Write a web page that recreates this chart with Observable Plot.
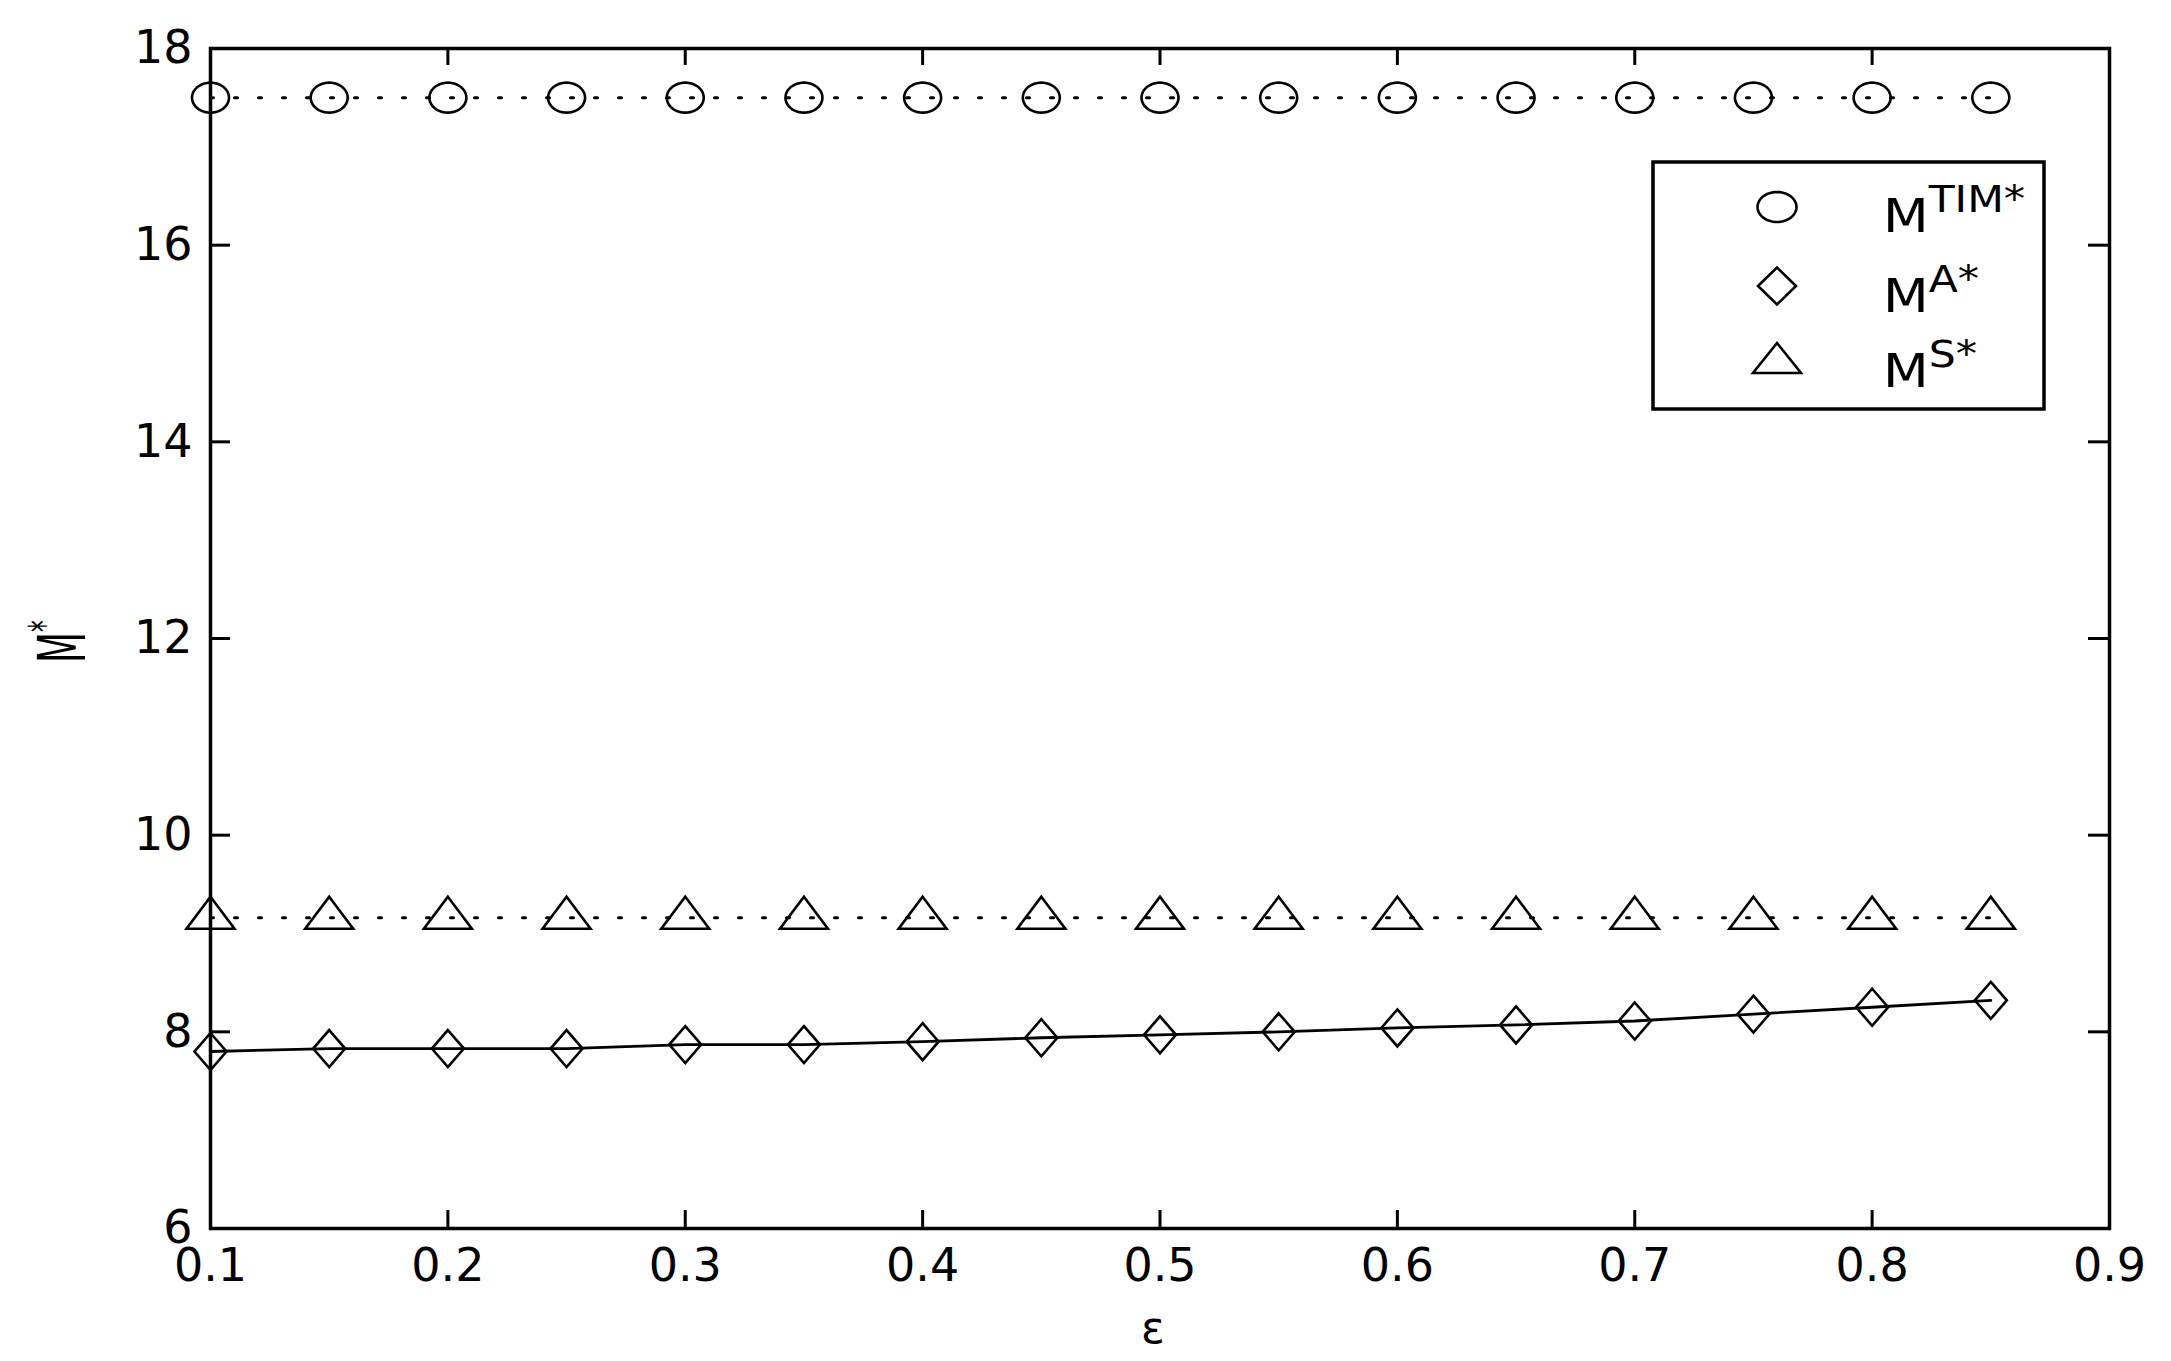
<!DOCTYPE html>
<html><head><meta charset="utf-8">
<script src="https://cdn.jsdelivr.net/npm/d3@7"></script>
<script src="https://cdn.jsdelivr.net/npm/@observablehq/plot@0.6"></script>
<style>body{margin:0;background:#fff}</style>
</head><body><div id="chart"></div>
<script>
// ---- data ----
const eps = [0.1, 0.15, 0.2, 0.25, 0.3, 0.35, 0.4, 0.45, 0.5, 0.55, 0.6, 0.65, 0.7, 0.75, 0.8, 0.85];
const mTIM = [17.5, 17.5, 17.5, 17.5, 17.5, 17.5, 17.5, 17.5, 17.5, 17.5, 17.5, 17.5, 17.5, 17.5, 17.5, 17.5];
const mA   = [7.80, 7.83, 7.83, 7.83, 7.87, 7.87, 7.90, 7.94, 7.97, 8.00, 8.04, 8.07, 8.11, 8.18, 8.25, 8.32];
const mS   = [9.16, 9.16, 9.16, 9.16, 9.16, 9.16, 9.16, 9.16, 9.16, 9.16, 9.16, 9.16, 9.16, 9.16, 9.16, 9.16];
const xTicks = [0.1, 0.2, 0.3, 0.4, 0.5, 0.6, 0.7, 0.8, 0.9];
const yTicks = [6, 8, 10, 12, 14, 16, 18];
const legendSup = ["TIM*", "A*", "S*"];

const rows = eps.map((e, i) => ({eps: e, tim: mTIM[i], a: mA[i], s: mS[i]}));

// ---- custom marker shapes (the picture is stretched, so markers are elliptic) ----
function ellipseSym(rx, ry) {
  return {draw(ctx) {
    const n = 48;
    for (let i = 0; i < n; i++) {
      const t = 2 * Math.PI * i / n, px = rx * Math.cos(t), py = ry * Math.sin(t);
      if (i) ctx.lineTo(px, py); else ctx.moveTo(px, py);
    }
    ctx.closePath();
  }};
}
function diamondSym(hw, hh) {
  return {draw(ctx) { ctx.moveTo(0, -hh); ctx.lineTo(hw, 0); ctx.lineTo(0, hh); ctx.lineTo(-hw, 0); ctx.closePath(); }};
}
function triSym(hw, up, down) {
  return {draw(ctx) { ctx.moveTo(0, -up); ctx.lineTo(hw, down); ctx.lineTo(-hw, down); ctx.closePath(); }};
}
const symCircle = ellipseSym(18.5, 15);
const symDiamond = diamondSym(16, 18.5);
const symTri = triSym(24, 21, 11);

const F = "DejaVu Sans";
const dotted = "3,21";

const plot = Plot.plot({
  width: 2171, height: 1361,
  marginLeft: 210, marginRight: 62, marginTop: 48, marginBottom: 133,
  style: {fontFamily: F, background: "white", color: "black"},
  x: {domain: [0.1, 0.9]},
  y: {domain: [6, 18]},
  marks: [
    Plot.line(rows, {x: "eps", y: "tim", stroke: "black", strokeWidth: 3, strokeDasharray: dotted}),
    Plot.line(rows, {x: "eps", y: "s", stroke: "black", strokeWidth: 3, strokeDasharray: dotted}),
    Plot.line(rows, {x: "eps", y: "a", stroke: "black", strokeWidth: 2.8}),
    Plot.dot(rows, {x: "eps", y: "tim", symbol: symCircle, stroke: "black", strokeWidth: 2.6, fill: "none"}),
    Plot.dot(rows, {x: "eps", y: "s", symbol: symTri, stroke: "black", strokeWidth: 2.6, fill: "none"}),
    Plot.dot(rows, {x: "eps", y: "a", symbol: symDiamond, stroke: "black", strokeWidth: 2.6, fill: "none"}),
    Plot.frame({stroke: "black", strokeWidth: 3.5}),
    // tick labels
    Plot.axisX({anchor: "bottom", ticks: xTicks, tickSize: 0, tickPadding: 20, fontSize: 46, label: null, tickFormat: d => String(d)}),
    Plot.axisY({anchor: "left", ticks: yTicks, tickSize: 0, tickPadding: 18, fontSize: 46, label: null, tickFormat: d => String(d)}),
    // inward ticks on all four sides
    Plot.axisX({anchor: "bottom", ticks: xTicks, tickSize: -18, strokeWidth: 3, tickFormat: () => "", label: null}),
    Plot.axisX({anchor: "top", ticks: xTicks, tickSize: -16, strokeWidth: 3, tickFormat: () => "", label: null}),
    Plot.axisY({anchor: "left", ticks: yTicks, tickSize: -20, strokeWidth: 3, tickFormat: () => "", label: null}),
    Plot.axisY({anchor: "right", ticks: yTicks, tickSize: -22, strokeWidth: 3, tickFormat: () => "", label: null})
  ]
});
document.getElementById("chart").appendChild(plot);

// ---- axis titles and legend ----
const svg = d3.select(plot);
// x label
svg.append("text").attr("x", 1153).attr("y", 1343).attr("text-anchor", "middle")
  .attr("font-family", F).attr("font-size", 44).attr("fill", "black").text("ε");
// y label (rotated M*)
const yl = svg.append("text").attr("transform", "translate(85,663) rotate(-90) scale(0.78,1.43)")
  .attr("text-anchor", "start").attr("font-family", F).attr("font-size", 46).attr("fill", "black");
yl.append("tspan").text("M");
yl.append("tspan").attr("dy", -18).attr("font-size", 30).text("*");

const lg = svg.append("g").attr("text-anchor", "start");
lg.append("rect").attr("x", 1653).attr("y", 162).attr("width", 391).attr("height", 247)
  .attr("fill", "white").attr("stroke", "black").attr("stroke-width", 3.5);
const legendSyms = [ellipseSym(19.5, 15), diamondSym(19, 18.5), triSym(24, 19, 11)];
const legendY = [207, 286, 362];
const textY = [232, 312, 387];
legendSyms.forEach((s, i) => {
  const p = d3.path(); s.draw(p);
  lg.append("path").attr("d", p.toString()).attr("transform", `translate(1777,${legendY[i]})`)
    .attr("fill", "none").attr("stroke", "black").attr("stroke-width", 2.6);
  const t = lg.append("text").attr("transform", `translate(1883,${textY[i]}) scale(1.15,1)`)
    .attr("text-anchor", "start").attr("font-family", F).attr("font-size", 46).attr("fill", "black");
  t.append("tspan").text("M");
  t.append("tspan").attr("dy", -20).attr("font-size", 37).text(legendSup[i]);
});
</script>
</body></html>
